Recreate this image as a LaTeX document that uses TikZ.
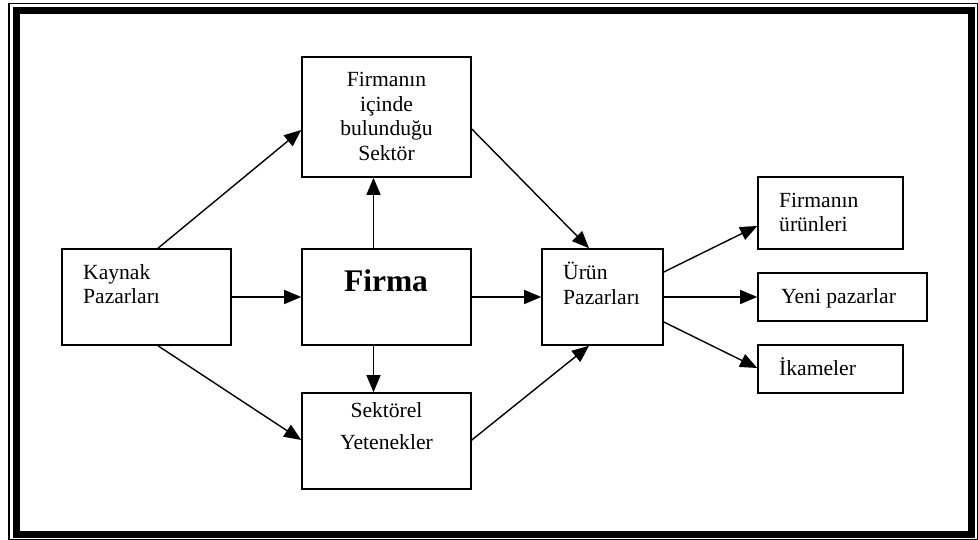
\documentclass[tikz,border=0pt]{standalone}
\usepackage{fontspec}
\setmainfont{Liberation Serif}
\usetikzlibrary{arrows.meta,calc}

\begin{document}
\begin{tikzpicture}[x=1pt,y=-1pt,
  box/.style={draw, line width=1.6pt, inner sep=0pt},
  txt/.style={inner sep=0pt, font=\fontsize{21.6}{24.5}\selectfont},
  arr/.style={line width=1.4pt, -{Triangle[length=17pt,width=14pt]}}]
\useasboundingbox (0,0) rectangle (978,540);

% double page frame: thin outer line, thick inner line
\draw[line width=1.3pt] (9,3.8) rectangle (977.5,539.5);
\draw[line width=7pt] (16.5,10.8) rectangle (971.5,534.5);

% boxes
\node[box, minimum width=169, minimum height=120] (sektor)   at (386.5,117) {};
\node[box, minimum width=169, minimum height=96]  (kaynak)   at (146.5,297) {};
\node[box, minimum width=169, minimum height=96]  (firma)    at (386.5,297) {};
\node[box, minimum width=169, minimum height=96]  (sektorel) at (386.5,441) {};
\node[box, minimum width=121, minimum height=96]  (urun)     at (602.5,297) {};
\node[box, minimum width=145, minimum height=72]  (urunleri) at (830.5,213) {};
\node[box, minimum width=169, minimum height=48]  (yeni)     at (842.5,297) {};
\node[box, minimum width=145, minimum height=48]  (ikame)    at (830.5,369) {};

% box texts
\node[txt, align=center, anchor=north] (sektorT) at (386.5,69.55)
  {\strut Firmanın\\\strut içinde\\\strut bulunduğu\\\strut Sektör};
\node[inner sep=0pt, anchor=base, font=\bfseries\fontsize{31.5}{36}\selectfont] (firmaT) at (386,291) {Firma};
\node[txt, align=left, anchor=north west] (kaynakT) at (83,261.85)
  {\strut Kaynak\\\strut Pazarları};
\node[txt, align=center, anchor=north] (sektorelT) at (386.5,399.85)
  {\strut Sektörel\\[7.5pt]\strut Yetenekler};
\node[txt, align=left, anchor=north west] (urunT) at (563,261.85)
  {\strut Ürün\\\strut Pazarları};
\node[txt, align=left, anchor=north west] (urunleriT) at (779,189.85)
  {\strut Firmanın\\\strut ürünleri};
\node[txt, anchor=base west] (yeniT) at (781,304) {Yeni pazarlar};
\node[txt, anchor=base west] (ikameT) at (779,375) {İkameler};

% connectors
\draw[arr] ($(kaynak.north)+(11.5,0)$) -- ($(sektor.west)+(0,13)$);
\draw[arr] (kaynak.east) -- (firma.west);
\draw[arr] ($(kaynak.south)+(11.5,0)$) -- ($(sektorel.west)+(0,-1)$);
\draw[arr] ($(firma.north)+(-13,0)$) -- ($(sektor.south)+(-13,0)$);
\draw[arr] ($(firma.south)+(-13,0)$) -- ($(sektorel.north)+(-13,0)$);
\draw[arr] ($(sektor.east)+(0,12)$) -- ($(urun.north)+(-13.5,0)$);
\draw[arr] (firma.east) -- (urun.west);
\draw[arr] ($(sektorel.east)+(0,-1)$) -- ($(urun.south)+(-13.5,0)$);
\draw[arr] ($(urun.east)+(0,-25)$) -- ($(urunleri.west)+(0,13)$);
\draw[arr] (urun.east) -- (yeni.west);
\draw[arr] ($(urun.east)+(0,25)$) -- ($(ikame.west)+(0,-1)$);
\end{tikzpicture}
\end{document}
